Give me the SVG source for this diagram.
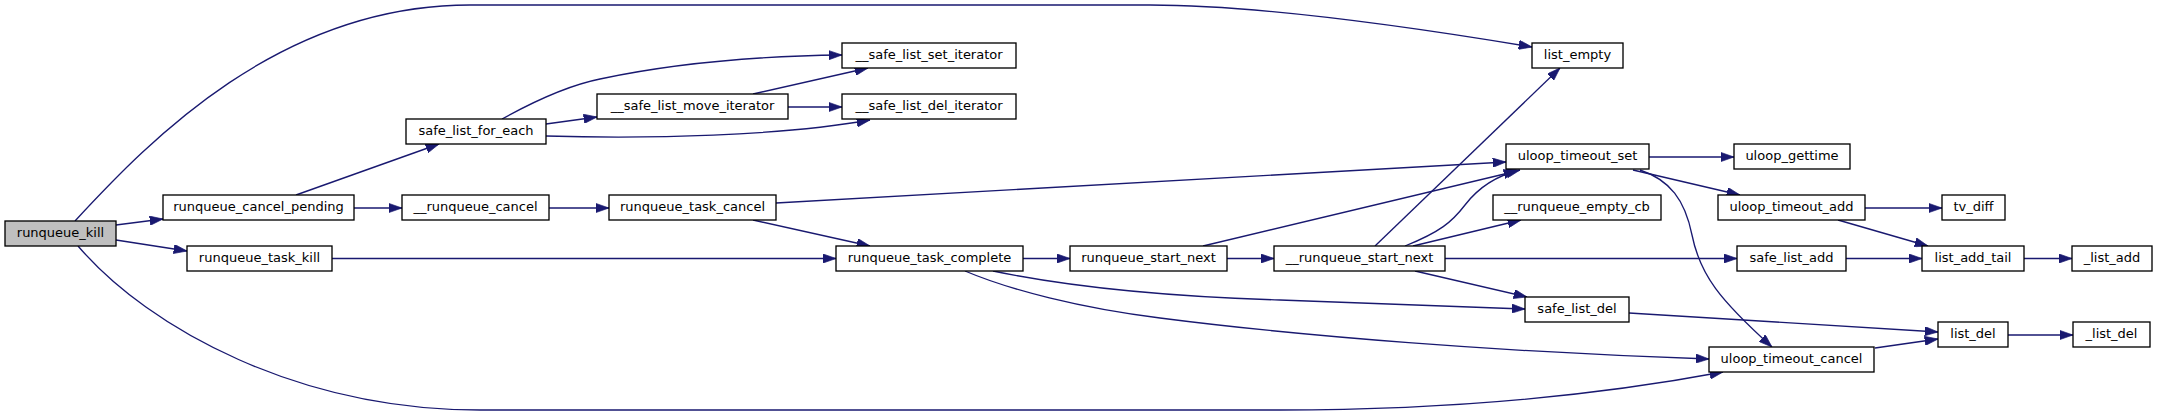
<svg xmlns="http://www.w3.org/2000/svg" width="2157" height="416" viewBox="0 0 2157 416">
<defs>
<marker id="arr" viewBox="0 0 10 7" refX="10" refY="3.5" markerWidth="13.3" markerHeight="9.3" markerUnits="userSpaceOnUse" orient="auto">
<path d="M0,0 L10,3.5 L0,7 z" fill="#191970" stroke="#191970" stroke-width="0.5"/>
</marker>
<style>
.n rect{fill:#ffffff;stroke:#000000;stroke-width:1.33}
.root rect{fill:#bfbfbf}
.n text{font-family:"DejaVu Sans","Liberation Sans",sans-serif;font-size:13px;text-anchor:middle;fill:#000000}
#edges path{fill:none;stroke:#191970;stroke-width:1.33;marker-end:url(#arr)}
</style>
</defs>
<rect width="2157" height="416" fill="#ffffff"/>
<g id="edges">
<path d="M75,221 C150,140 280,5 470,5 L1150,5 C1250,5 1400,25 1532,47"/>
<path d="M116,225 L163,219"/>
<path d="M116,240 L187,251"/>
<path d="M78,246 C150,330 300,410 480,410 L1280,410 C1450,410 1600,395 1723,372"/>
<path d="M296,195 L439,144"/>
<path d="M354,208 L402,208"/>
<path d="M502,119 C540,98 570,85 600,79 C680,62 760,56 842,55"/>
<path d="M546,124 L597,117"/>
<path d="M546,136 C650,139 780,136 870,120"/>
<path d="M753,94 L868,68"/>
<path d="M788,107 L842,107"/>
<path d="M549,208 L609,208"/>
<path d="M776,203 L1506,162"/>
<path d="M753,220 L870,246"/>
<path d="M332,258.5 L836,258.5"/>
<path d="M1023,258.5 L1070,258.5"/>
<path d="M993,271 C1060,285 1150,296 1280,300 C1400,304 1460,307 1525,309"/>
<path d="M965,271 C1010,290 1080,308 1160,318 C1300,336 1500,352 1709,359"/>
<path d="M1227,258.5 L1274,258.5"/>
<path d="M1203,246 L1517,171"/>
<path d="M1375,246 L1560,68"/>
<path d="M1405,246 C1440,232 1452,222 1465,205 C1478,188 1495,176 1520,170"/>
<path d="M1413,246 L1521,220"/>
<path d="M1445,258.5 L1737,258.5"/>
<path d="M1415,271 L1527,297"/>
<path d="M1649,157 L1734,157"/>
<path d="M1633,170 L1740,195"/>
<path d="M1640,170 C1670,180 1685,200 1692,235 C1700,275 1720,300 1772,347"/>
<path d="M1865,208 L1942,208"/>
<path d="M1838,220 L1928,246"/>
<path d="M1846,258.5 L1922,258.5"/>
<path d="M2024,258.5 L2072,258.5"/>
<path d="M1629,313 L1938,332"/>
<path d="M1875,348 L1938,339"/>
<path d="M2008,335 L2073,335"/>
</g>
<g id="runqueue_kill" class="n root"><rect x="5" y="221" width="111" height="25"/><text x="60.5" y="237">runqueue_kill</text></g>
<g id="runqueue_cancel_pending" class="n"><rect x="163" y="195" width="191" height="25"/><text x="258.5" y="211">runqueue_cancel_pending</text></g>
<g id="runqueue_task_kill" class="n"><rect x="187" y="246" width="145" height="25"/><text x="259.5" y="262">runqueue_task_kill</text></g>
<g id="safe_list_for_each" class="n"><rect x="406" y="119" width="140" height="25"/><text x="476" y="135">safe_list_for_each</text></g>
<g id="__runqueue_cancel" class="n"><rect x="402" y="195" width="147" height="25"/><text x="475.5" y="211">__runqueue_cancel</text></g>
<g id="runqueue_task_cancel" class="n"><rect x="609" y="195" width="167" height="25"/><text x="692.5" y="211">runqueue_task_cancel</text></g>
<g id="__safe_list_move_iterator" class="n"><rect x="597" y="94" width="191" height="25"/><text x="692.5" y="110">__safe_list_move_iterator</text></g>
<g id="__safe_list_set_iterator" class="n"><rect x="842" y="43" width="174" height="25"/><text x="929" y="59">__safe_list_set_iterator</text></g>
<g id="__safe_list_del_iterator" class="n"><rect x="842" y="94" width="174" height="25"/><text x="929" y="110">__safe_list_del_iterator</text></g>
<g id="list_empty" class="n"><rect x="1532" y="43" width="91" height="25"/><text x="1577.5" y="59">list_empty</text></g>
<g id="uloop_timeout_set" class="n"><rect x="1506" y="144" width="143" height="25"/><text x="1577.5" y="160">uloop_timeout_set</text></g>
<g id="uloop_gettime" class="n"><rect x="1734" y="144" width="116" height="25"/><text x="1792" y="160">uloop_gettime</text></g>
<g id="__runqueue_empty_cb" class="n"><rect x="1493" y="195" width="168" height="25"/><text x="1577" y="211">__runqueue_empty_cb</text></g>
<g id="uloop_timeout_add" class="n"><rect x="1718" y="195" width="147" height="25"/><text x="1791.5" y="211">uloop_timeout_add</text></g>
<g id="tv_diff" class="n"><rect x="1942" y="195" width="63" height="25"/><text x="1973.5" y="211">tv_diff</text></g>
<g id="runqueue_task_complete" class="n"><rect x="836" y="246" width="187" height="25"/><text x="929.5" y="262">runqueue_task_complete</text></g>
<g id="runqueue_start_next" class="n"><rect x="1070" y="246" width="157" height="25"/><text x="1148.5" y="262">runqueue_start_next</text></g>
<g id="__runqueue_start_next" class="n"><rect x="1274" y="246" width="171" height="25"/><text x="1359.5" y="262">__runqueue_start_next</text></g>
<g id="safe_list_add" class="n"><rect x="1737" y="246" width="109" height="25"/><text x="1791.5" y="262">safe_list_add</text></g>
<g id="list_add_tail" class="n"><rect x="1922" y="246" width="102" height="25"/><text x="1973" y="262">list_add_tail</text></g>
<g id="_list_add" class="n"><rect x="2072" y="246" width="80" height="25"/><text x="2112" y="262">_list_add</text></g>
<g id="safe_list_del" class="n"><rect x="1525" y="297" width="104" height="25"/><text x="1577" y="313">safe_list_del</text></g>
<g id="list_del" class="n"><rect x="1938" y="322" width="70" height="25"/><text x="1973" y="338">list_del</text></g>
<g id="_list_del" class="n"><rect x="2073" y="322" width="77" height="25"/><text x="2111.5" y="338">_list_del</text></g>
<g id="uloop_timeout_cancel" class="n"><rect x="1709" y="347" width="165" height="25"/><text x="1791.5" y="363">uloop_timeout_cancel</text></g>
</svg>
